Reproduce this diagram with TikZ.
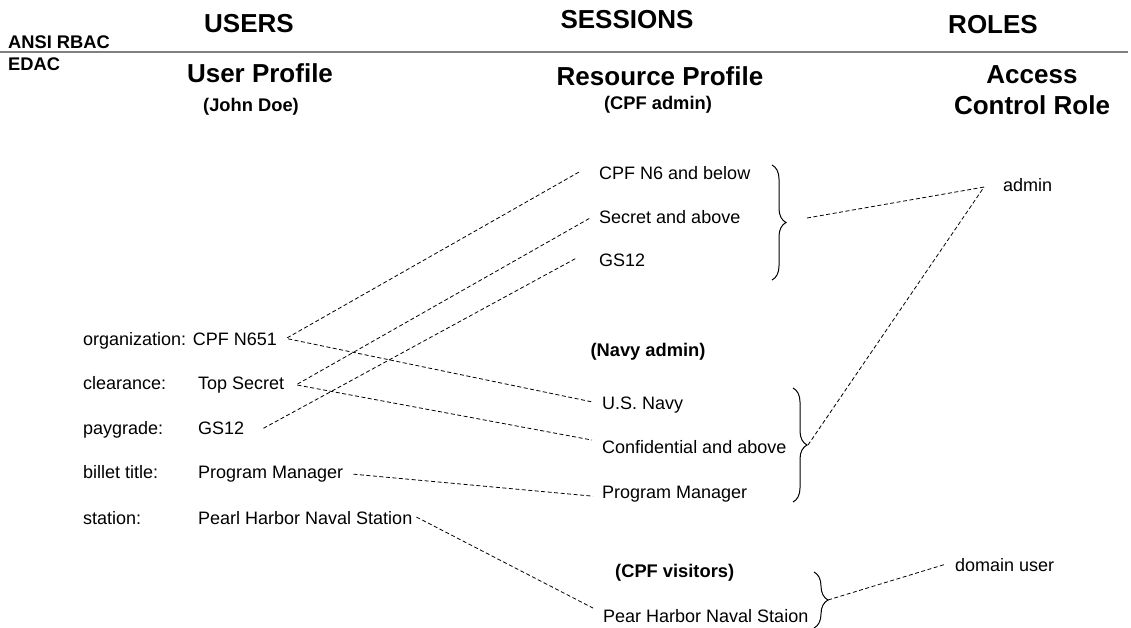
\documentclass[tikz,border=0pt]{standalone}
\usepackage{fontspec}
\setmainfont{Liberation Sans}
\usetikzlibrary{decorations.pathreplacing,calc}
\begin{document}
\begin{tikzpicture}[x=1pt,y=1pt,
  txt/.style={font=\fontsize{18}{21}\selectfont, inner sep=0pt, anchor=base west},
  hd/.style={font=\fontsize{26}{31}\selectfont\bfseries, inner sep=0pt},
  sm/.style={font=\fontsize{18.3}{21}\selectfont\bfseries, inner sep=0pt},
  conn/.style={draw=black, dash pattern=on 4pt off 2.5pt, line width=0.8pt},
  br/.style={decorate, decoration={brace, amplitude=14pt}, line width=1pt}]
\useasboundingbox (0,0) rectangle (1131,-628);
% headers
\node[hd] (users) at (249,-24) {USERS};
\node[hd] (sessions) at (627,-20) {SESSIONS};
\node[hd] (roles) at (993,-25) {ROLES};
\node[sm, anchor=base west] (ansi) at (8,-48.5) {ANSI RBAC};
\node[sm, anchor=base west] (edac) at (8,-71) {EDAC};
\draw[gray, line width=1.5pt] (0,-52) -- (1128,-52);
\node[hd] (uprof) at (260,-73) {User Profile};
\node[sm] (jd) at (251,-107) {(John Doe)};
\node[hd] (rprof) at (660,-76) {Resource Profile};
\node[sm] (cpfadm) at (658,-105) {(CPF admin)};
\node[hd, align=center] (acr) at (1032,-90) {Access\\Control Role};
% left column
\node[txt] (org) at (83,-345.5) {organization: CPF N651};
\node[txt] (clr) at (83,-389.5) {clearance:};
\node[txt] (ts) at (198,-389.5) {Top Secret};
\node[txt] (pg) at (83,-434.5) {paygrade:};
\node[txt] (gs) at (198,-434.5) {GS12};
\node[txt] (bt) at (83,-478.5) {billet title:};
\node[txt] (pm) at (198,-478.5) {Program Manager};
\node[txt] (st) at (83,-524.5) {station:};
\node[txt] (phns) at (198,-524.5) {Pearl Harbor Naval Station};
% middle column
\node[txt] (cpf6) at (599,-179.5) {CPF N6 and below};
\node[txt] (sec) at (599,-223.5) {Secret and above};
\node[txt] (gs2) at (599,-266.5) {GS12};
\node[sm] (navy) at (648,-352) {(Navy admin)};
\node[txt] (usn) at (602,-409.5) {U.S. Navy};
\node[txt] (conf) at (602,-453.5) {Confidential and above};
\node[txt] (pm2) at (602,-498.5) {Program Manager};
\node[sm, anchor=west] (vis) at (615,-573) {(CPF visitors)};
\node[txt] (phns2) at (603,-622.5) {Pear Harbor Naval Staion};
% right column
\node[txt] (admin) at (1003,-191.5) {admin};
\node[txt] (du) at (955,-571.5) {domain user};
% braces
\draw[br] (772,-165) -- (772,-280);
\coordinate (b1) at (787,-222);
\draw[br] (793,-388) -- (793,-502);
\coordinate (b2) at (808,-445);
\draw[br] (814,-572) -- (814,-628);
\coordinate (b3) at (828,-600);
% connectors
\draw[conn] ([xshift=10,yshift=3]org.east) -- ([xshift=-20,yshift=1]cpf6.west);
\draw[conn] ([xshift=11,yshift=2]org.east) -- ([xshift=-9,yshift=3]usn.west);
\draw[conn] ([xshift=13,yshift=1]ts.east) -- ([xshift=-9,yshift=-1]sec.west);
\draw[conn] ([xshift=13]ts.east) -- ([xshift=-10,yshift=7]conf.west);
\draw[conn] ([xshift=19]gs.east) -- ([xshift=-23,yshift=2]gs2.west);
\draw[conn] ([xshift=10]pm.east) -- ([xshift=-9,yshift=-2]pm2.west);
\draw[conn] ([xshift=4,yshift=1]phns.east) -- ([xshift=-10,yshift=8]phns2.west);
\draw[conn] ([xshift=20,yshift=4]b1) -- ([xshift=-19,yshift=-2]admin.west);
\draw[conn] (b2) -- ([xshift=-19,yshift=-2]admin.west);
\draw[conn] (b3) -- ([xshift=-9,yshift=1]du.west);
\end{tikzpicture}
\end{document}
